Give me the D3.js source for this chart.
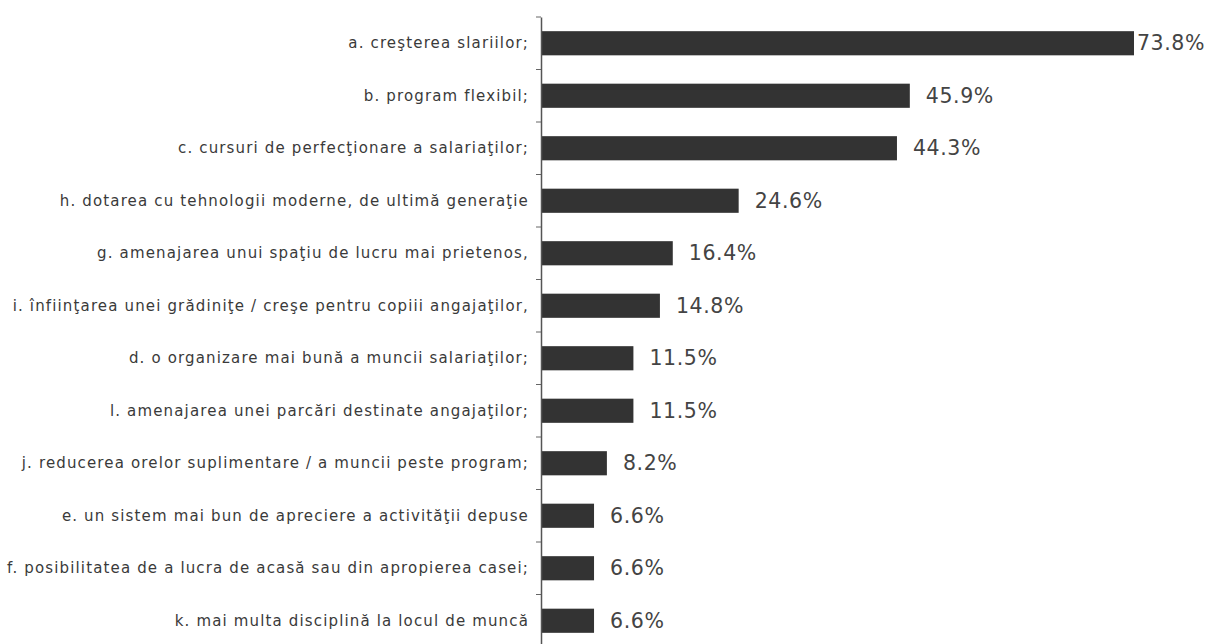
<!DOCTYPE html>
<html><head><meta charset="utf-8">
<script src="https://cdn.jsdelivr.net/npm/d3@7"></script>
<style>body{margin:0;background:#fff}svg{display:block}</style>
</head><body><svg id="c" width="1208" height="644"></svg>
<script>
const categories = [
  "a. creşterea slariilor;",
  "b. program flexibil;",
  "c. cursuri de perfecţionare a salariaţilor;",
  "h. dotarea cu tehnologii moderne, de ultimă generaţie",
  "g. amenajarea unui spaţiu de lucru mai prietenos,",
  "i. înfiinţarea unei grădiniţe / creşe pentru copiii angajaţilor,",
  "d. o organizare mai bună a muncii salariaţilor;",
  "l. amenajarea unei parcări destinate angajaţilor;",
  "j. reducerea orelor suplimentare / a muncii peste program;",
  "e. un sistem mai bun de apreciere a activităţii depuse",
  "f. posibilitatea de a lucra de acasă sau din apropierea casei;",
  "k. mai multa disciplină la locul de muncă"
];
const values = [73.8, 45.9, 44.3, 24.6, 16.4, 14.8, 11.5, 11.5, 8.2, 6.6, 6.6, 6.6];
const valueLabels = ["73.8%","45.9%","44.3%","24.6%","16.4%","14.8%","11.5%","11.5%","8.2%","6.6%","6.6%","6.6%"];

const W = 1208, H = 644;
const svg = d3.select("#c");
const x0 = 541;
const x = d3.scaleLinear().domain([0, 73.8]).range([x0, 1134]);
const y = d3.scaleBand().domain(categories).range([17, 647]).paddingInner(0.54).paddingOuter(0.27);

// bars
svg.append("g").selectAll("rect").data(values).join("rect")
  .attr("x", x(0))
  .attr("y", (d,i) => y(categories[i]))
  .attr("width", d => x(d) - x(0))
  .attr("height", y.bandwidth())
  .attr("fill", "#333");

// axis
const axis = d3.axisLeft(y).tickSize(0).tickFormat("");
const ag = svg.append("g").attr("transform", `translate(${x0},0)`).call(axis);
ag.select(".domain").attr("stroke", "#555").attr("stroke-width", 1.5);
// boundary ticks
const bounds = d3.range(categories.length + 1).map(i => 17 + i * (630 / categories.length));
svg.append("g").selectAll("line").data(bounds).join("line")
  .attr("x1", x0 - 5).attr("x2", x0)
  .attr("y1", d => d).attr("y2", d => d)
  .attr("stroke", "#666").attr("stroke-width", 1);

// category labels
svg.append("g").selectAll("text").data(categories).join("text")
  .attr("x", 529)
  .attr("y", d => y(d) + y.bandwidth()/2)
  .attr("text-anchor", "end")
  .attr("dominant-baseline", "central")
  .attr("font-family", "DejaVu Sans, sans-serif")
  .attr("font-size", 15)
  .attr("letter-spacing", 1.15)
  .attr("fill", "#3a3a3a")
  .text(d => d);

// value labels
const vl = svg.append("g").selectAll("text").data(values).join("text")
  .attr("y", (d,i) => y(categories[i]) + y.bandwidth()/2)
  .attr("dominant-baseline", "central")
  .attr("font-family", "DejaVu Sans, sans-serif")
  .attr("font-size", 20.5)
  .attr("letter-spacing", 0.6)
  .attr("fill", "#444")
  .text((d,i) => valueLabels[i]);
vl.each(function(d){
  const w = this.getComputedTextLength();
  const px = Math.min(x(d) + 16, W - 3 - w);
  d3.select(this).attr("x", px);
});
</script></body></html>
